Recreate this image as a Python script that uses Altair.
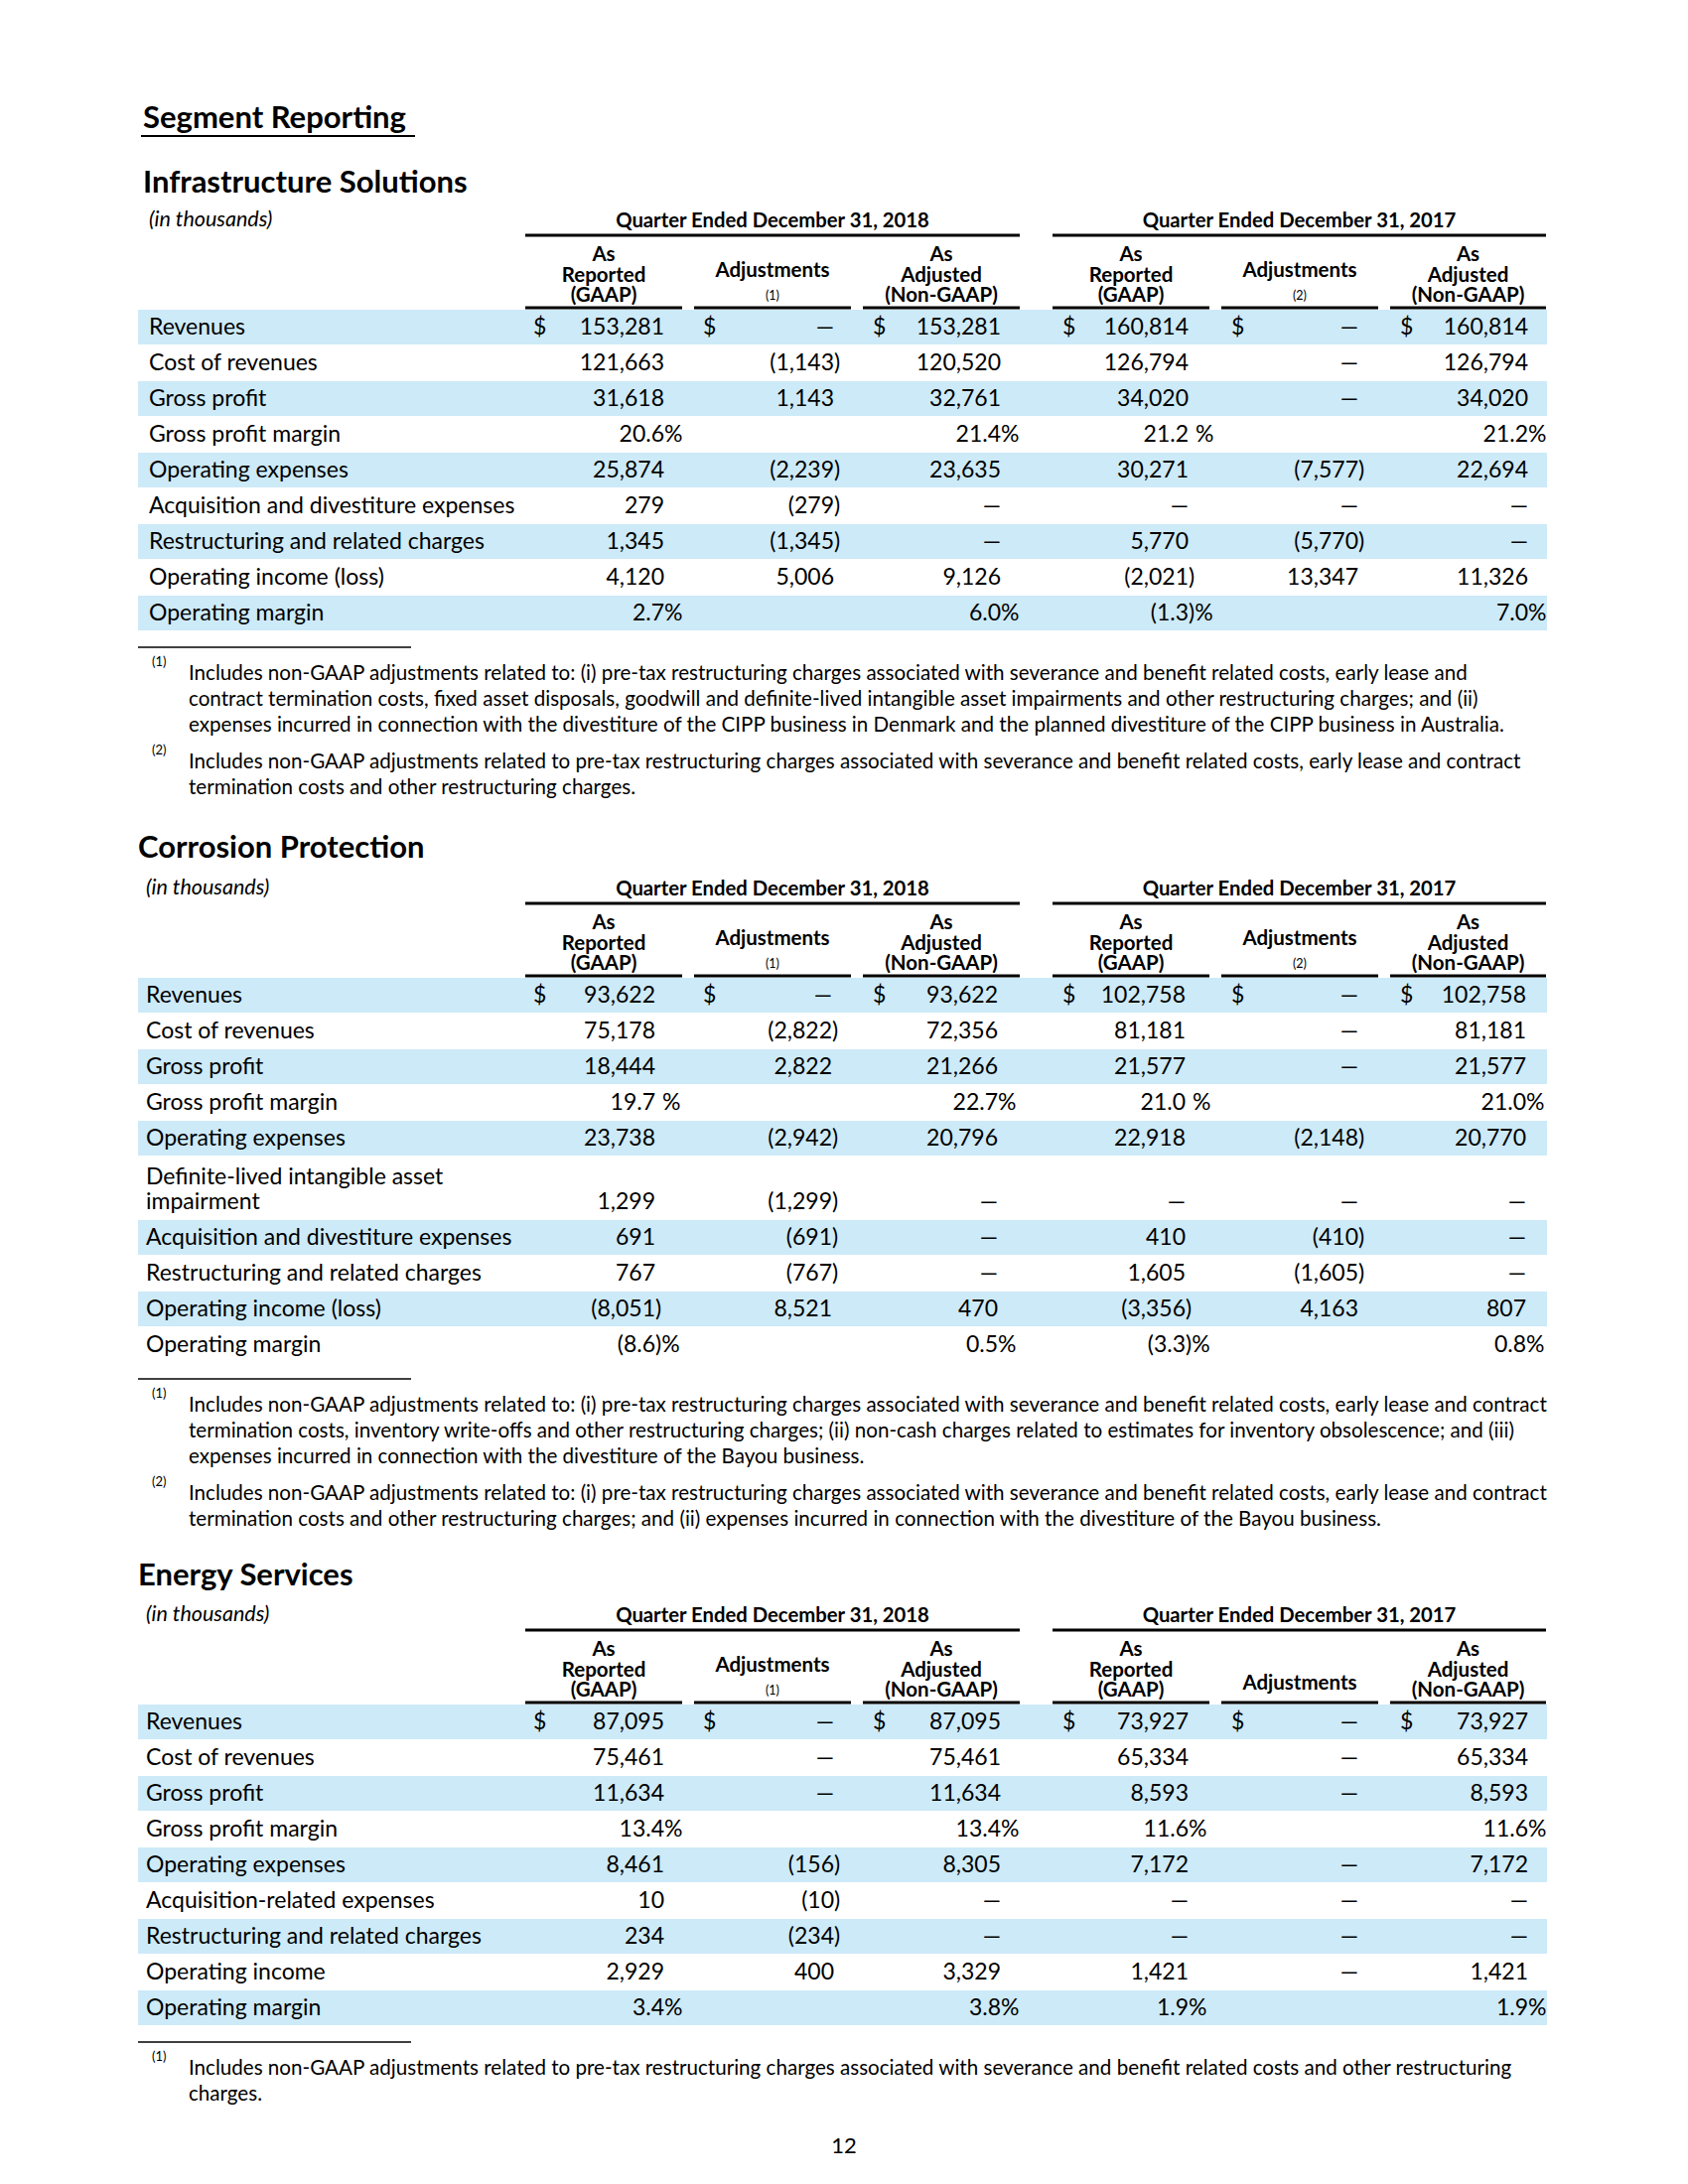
import altair as alt
import pandas as pd

# ------------------------------------------------------------------ data
PAGE_TITLE = "Segment Reporting"
PAGE_NUMBER = "12"
UNITS_NOTE = "(in thousands)"
QUARTERS = ["Quarter Ended December 31, 2018", "Quarter Ended December 31, 2017"]
HEAD_REPORTED = ["As", "Reported", "(GAAP)"]
HEAD_ADJUSTED = ["As", "Adjusted", "(Non-GAAP)"]
HEAD_ADJ = "Adjustments"

# Infrastructure Solutions
infra_title = "Infrastructure Solutions"
infra_rows = ["Revenues", "Cost of revenues", "Gross profit", "Gross profit margin",
              "Operating expenses", "Acquisition and divestiture expenses",
              "Restructuring and related charges", "Operating income (loss)", "Operating margin"]
infra_2018_reported = ["153,281", "121,663", "31,618", "20.6%", "25,874", "279", "1,345", "4,120", "2.7%"]
infra_2018_adjust = ["—", "(1,143)", "1,143", "", "(2,239)", "(279)", "(1,345)", "5,006", ""]
infra_2018_adjusted = ["153,281", "120,520", "32,761", "21.4%", "23,635", "—", "—", "9,126", "6.0%"]
infra_2017_reported = ["160,814", "126,794", "34,020", "21.2 %", "30,271", "—", "5,770", "(2,021)", "(1.3)%"]
infra_2017_adjust = ["—", "—", "—", "", "(7,577)", "—", "(5,770)", "13,347", ""]
infra_2017_adjusted = ["160,814", "126,794", "34,020", "21.2%", "22,694", "—", "—", "11,326", "7.0%"]
infra_adj_marks = ["(1)", "(2)"]
infra_note_marks = ["(1)", "(2)"]
infra_note_1 = [
    "Includes non-GAAP adjustments related to: (i) pre-tax restructuring charges associated with severance and benefit related costs, early lease and",
    "contract termination costs, fixed asset disposals, goodwill and definite-lived intangible asset impairments and other restructuring charges; and (ii)",
    "expenses incurred in connection with the divestiture of the CIPP business in Denmark and the planned divestiture of the CIPP business in Australia.",
]
infra_note_2 = [
    "Includes non-GAAP adjustments related to pre-tax restructuring charges associated with severance and benefit related costs, early lease and contract",
    "termination costs and other restructuring charges.",
]

# Corrosion Protection
corr_title = "Corrosion Protection"
corr_rows = ["Revenues", "Cost of revenues", "Gross profit", "Gross profit margin",
             "Operating expenses", "Definite-lived intangible asset\nimpairment",
             "Acquisition and divestiture expenses", "Restructuring and related charges",
             "Operating income (loss)", "Operating margin"]
corr_2018_reported = ["93,622", "75,178", "18,444", "19.7 %", "23,738", "1,299", "691", "767", "(8,051)", "(8.6)%"]
corr_2018_adjust = ["—", "(2,822)", "2,822", "", "(2,942)", "(1,299)", "(691)", "(767)", "8,521", ""]
corr_2018_adjusted = ["93,622", "72,356", "21,266", "22.7%", "20,796", "—", "—", "—", "470", "0.5%"]
corr_2017_reported = ["102,758", "81,181", "21,577", "21.0 %", "22,918", "—", "410", "1,605", "(3,356)", "(3.3)%"]
corr_2017_adjust = ["—", "—", "—", "", "(2,148)", "—", "(410)", "(1,605)", "4,163", ""]
corr_2017_adjusted = ["102,758", "81,181", "21,577", "21.0%", "20,770", "—", "—", "—", "807", "0.8%"]
corr_adj_marks = ["(1)", "(2)"]
corr_note_marks = ["(1)", "(2)"]
corr_note_1 = [
    "Includes non-GAAP adjustments related to: (i) pre-tax restructuring charges associated with severance and benefit related costs, early lease and contract",
    "termination costs, inventory write-offs and other restructuring charges; (ii) non-cash charges related to estimates for inventory obsolescence; and (iii)",
    "expenses incurred in connection with the divestiture of the Bayou business.",
]
corr_note_2 = [
    "Includes non-GAAP adjustments related to: (i) pre-tax restructuring charges associated with severance and benefit related costs, early lease and contract",
    "termination costs and other restructuring charges; and (ii) expenses incurred in connection with the divestiture of the Bayou business.",
]

# Energy Services
energy_title = "Energy Services"
energy_rows = ["Revenues", "Cost of revenues", "Gross profit", "Gross profit margin",
               "Operating expenses", "Acquisition-related expenses",
               "Restructuring and related charges", "Operating income", "Operating margin"]
energy_2018_reported = ["87,095", "75,461", "11,634", "13.4%", "8,461", "10", "234", "2,929", "3.4%"]
energy_2018_adjust = ["—", "—", "—", "", "(156)", "(10)", "(234)", "400", ""]
energy_2018_adjusted = ["87,095", "75,461", "11,634", "13.4%", "8,305", "—", "—", "3,329", "3.8%"]
energy_2017_reported = ["73,927", "65,334", "8,593", "11.6%", "7,172", "—", "—", "1,421", "1.9%"]
energy_2017_adjust = ["—", "—", "—", "", "—", "—", "—", "—", ""]
energy_2017_adjusted = ["73,927", "65,334", "8,593", "11.6%", "7,172", "—", "—", "1,421", "1.9%"]
energy_adj_marks = ["(1)", ""]
energy_note_marks = ["(1)"]
energy_note_1 = [
    "Includes non-GAAP adjustments related to pre-tax restructuring charges associated with severance and benefit related costs and other restructuring",
    "charges.",
]

# ------------------------------------------------------------------ layout (page pixels)
FONT = "Lato"
BAND_COLOR = "#CDEAF8"
X_BAND = (139, 1558)
DIGIT_EDGE = [669, 840, 1008, 1197, 1368, 1539]
DOLLAR_X = [537, 708, 879, 1070, 1240, 1410]
COL_SPAN = [(529, 687), (699, 857), (869, 1027), (1060, 1218), (1230, 1388), (1400, 1557)]
QTR_SPAN = [(529, 1027), (1060, 1557)]
ROW_H = 36
TALL_ROW_H = 64
LINE_GAP = 25

tables = [
    dict(title=infra_title, dy=0, tdy=0, tx=144, lx=150, rows=infra_rows,
         cols=[infra_2018_reported, infra_2018_adjust, infra_2018_adjusted,
               infra_2017_reported, infra_2017_adjust, infra_2017_adjusted],
         adj_marks=infra_adj_marks, notes=[infra_note_1, infra_note_2], note_marks=infra_note_marks,
         edge_shift=[0, 0, 0, 0, 0, 0]),
    dict(title=corr_title, dy=673, tdy=670, tx=139, lx=147, rows=corr_rows,
         cols=[corr_2018_reported, corr_2018_adjust, corr_2018_adjusted,
               corr_2017_reported, corr_2017_adjust, corr_2017_adjusted],
         adj_marks=corr_adj_marks, notes=[corr_note_1, corr_note_2], note_marks=corr_note_marks,
         edge_shift=[-9, -2, -3, -3, 0, -2]),
    dict(title=energy_title, dy=1405, tdy=1403, tx=139, lx=147, rows=energy_rows,
         cols=[energy_2018_reported, energy_2018_adjust, energy_2018_adjusted,
               energy_2017_reported, energy_2017_adjust, energy_2017_adjusted],
         adj_marks=energy_adj_marks, notes=[energy_note_1], note_marks=energy_note_marks,
         edge_shift=[0, 0, 0, 0, 0, 0]),
]


def split_value(s):
    """core digits (right-aligned on the column edge) and hanging suffix."""
    for suf in (")%", " %", "%", ")"):
        if s.endswith(suf):
            return s[: -len(suf)], suf
    return s, ""


texts, rules, bands = [], [], []


def T(g, x, y, t):
    texts.append(dict(g=g, x=x, y=y, text=t))


def R(w, x, x2, y):
    rules.append(dict(w=w, x=x, x2=x2, y=y))


# page title
T("title", 144, 129, PAGE_TITLE)
R(2, 142, 418, 137)
T("page", 850, 2162, PAGE_NUMBER)

for tb in tables:
    dy = tb["dy"]
    T("sect", tb["tx"], 194 + tb["tdy"], tb["title"])
    T("units", tb["lx"], 222 + dy, UNITS_NOTE)
    for q, (a, b) in zip(QUARTERS, QTR_SPAN):
        T("qtr", (a + b) / 2, 223 + dy, q)
        R(3, a, b, 237 + dy)
    for ci, (a, b) in enumerate(COL_SPAN):
        cx = (a + b) / 2
        R(3, a, b, 310 + dy)
        if ci % 3 == 1:
            mark = tb["adj_marks"][ci // 3]
            if mark:
                T("head", cx, 273 + dy, HEAD_ADJ)
                T("hmark", cx, 298 + dy, mark)
            else:
                T("head", cx, 291 + dy, HEAD_ADJ)
        else:
            lines = HEAD_REPORTED if ci % 3 == 0 else HEAD_ADJUSTED
            for li, ln in enumerate(lines):
                T("head", cx, [257, 278, 298][li] + dy, ln)
    top = 312 + dy
    center = None
    for ri, label in enumerate(tb["rows"]):
        parts = label.split("\n")
        h = ROW_H if len(parts) == 1 else TALL_ROW_H
        center = top + h - 18
        if ri % 2 == 0:
            bands.append(dict(x=X_BAND[0], x2=X_BAND[1], y=top, y2=top + h - 1))
        for li, p in enumerate(parts):
            T("label", tb["lx"], center - (len(parts) - 1 - li) * LINE_GAP, p)
        for ci, col in enumerate(tb["cols"]):
            v = col[ri]
            edge = DIGIT_EDGE[ci] + tb["edge_shift"][ci]
            if ri == 0:
                T("dollar", DOLLAR_X[ci], center, "$")
            if v:
                core, suf = split_value(v)
                T("numr", edge, center, core)
                if suf == " %":
                    T("numl", edge + 7, center, "%")
                elif suf:
                    T("numl", edge, center, suf)
        top += h
    # footnotes
    R(1.3, 139, 414, center + 34)
    y = center + 61
    for mark, note in zip(tb["note_marks"], tb["notes"]):
        T("fmark", 153, y - 12, mark)
        for ln in note:
            T("fn", 190, y, ln)
            y += 26
        y += 11

tdf = pd.DataFrame(texts)
rdf = pd.DataFrame(rules)
bdf = pd.DataFrame(bands)

W, H = 1684, 2184
xs = alt.Scale(domain=[8, 8 + W], nice=False, zero=False)
ys = alt.Scale(domain=[8, 8 + H], reverse=True, nice=False, zero=False)

STYLES = {
    "title": dict(align="left", baseline="alphabetic", fontSize=31, fontWeight="bold"),
    "sect": dict(align="left", baseline="alphabetic", fontSize=31, fontWeight="bold"),
    "units": dict(align="left", baseline="middle", fontSize=21.5, fontStyle="italic"),
    "qtr": dict(align="center", baseline="middle", fontSize=20.3, fontWeight="bold"),
    "head": dict(align="center", baseline="middle", fontSize=20.5, fontWeight="bold"),
    "hmark": dict(align="center", baseline="middle", fontSize=12.5),
    "label": dict(align="left", baseline="middle", fontSize=23),
    "dollar": dict(align="left", baseline="middle", fontSize=23),
    "numr": dict(align="right", baseline="middle", fontSize=23),
    "numl": dict(align="left", baseline="middle", fontSize=23),
    "fn": dict(align="left", baseline="middle", fontSize=20.6),
    "fmark": dict(align="left", baseline="middle", fontSize=13),
    "page": dict(align="center", baseline="middle", fontSize=22),
}

layers = [
    alt.Chart(bdf).mark_rect(color=BAND_COLOR).encode(
        x=alt.X("x:Q", scale=xs, axis=None), x2="x2:Q",
        y=alt.Y("y:Q", scale=ys, axis=None), y2="y2:Q")
]
for w in sorted(rdf["w"].unique()):
    layers.append(
        alt.Chart(rdf[rdf["w"] == w]).mark_rule(color="black", strokeWidth=float(w)).encode(
            x=alt.X("x:Q", scale=xs, axis=None), x2="x2:Q",
            y=alt.Y("y:Q", scale=ys, axis=None))
    )
for g, st in STYLES.items():
    sub = tdf[tdf["g"] == g]
    if len(sub) == 0:
        continue
    layers.append(
        alt.Chart(sub).mark_text(font=FONT, color="black", **st).encode(
            x=alt.X("x:Q", scale=xs, axis=None),
            y=alt.Y("y:Q", scale=ys, axis=None),
            text="text:N")
    )

chart = alt.layer(*layers).properties(
    width=W, height=H, padding=0, autosize=alt.AutoSizeParams(type="none"), background="white"
).configure_view(stroke=None)

chart.save("out.html", embed_options={"renderer": "svg", "actions": False})
